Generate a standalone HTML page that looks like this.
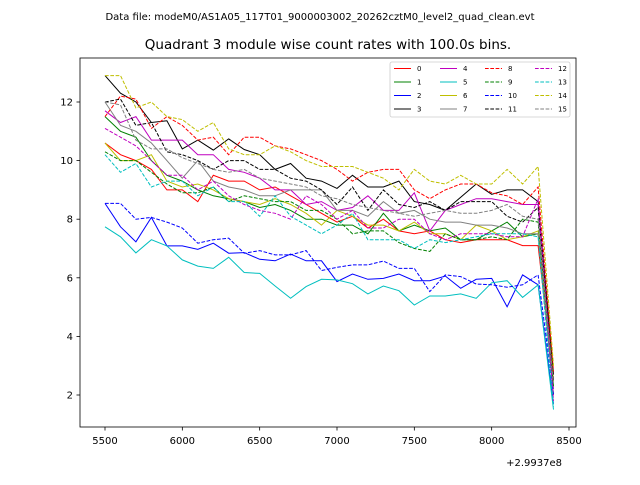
<!DOCTYPE html>
<html><head><meta charset="utf-8"><style>
body{margin:0;background:#fff;font-family:"Liberation Sans","DejaVu Sans",sans-serif}
svg text{font-family:"DejaVu Sans","Liberation Sans",sans-serif}
</style></head><body>
<svg id="chart" width="640" height="480" xmlns="http://www.w3.org/2000/svg">
<text x="320" y="20" font-size="10" text-anchor="middle">Data file: modeM0/AS1A05_117T01_9000003002_20262cztM0_level2_quad_clean.evt</text>
<text x="328" y="49" font-size="13.5" text-anchor="middle">Quadrant 3 module wise count rates with 100.0s bins.</text>
<g id="series"></g>
<rect x="80" y="58" width="496" height="369" fill="none" stroke="#000" stroke-width="0.8"/>
<g id="axes"></g>
<text x="562" y="466" font-size="10" text-anchor="end">+2.9937e8</text>
<g id="legend"></g>
</svg>
<script>
const times=[5500,5600,5700,5800,5900,6000,6100,6200,6300,6400,6500,6600,6700,6800,6900,7000,7100,7200,7300,7400,7500,7600,7700,7800,7900,8000,8100,8200,8300,8400];
const s0=[10.6,10.2,10.0,9.7,9.0,9.0,8.6,9.5,9.3,9.3,9.0,9.1,8.8,8.5,8.2,7.9,8.1,7.7,8.0,7.6,7.5,7.6,7.3,7.2,7.3,7.3,7.3,7.1,7.1,2.5];
const s1=[11.5,11.0,10.8,10.0,9.5,9.3,9.0,8.8,8.7,8.6,8.4,8.5,8.3,8.0,8.0,7.8,7.8,7.5,8.2,7.6,7.8,7.6,7.7,7.3,7.3,7.6,7.9,7.4,7.5,2.0];
const s2=[8.54,7.74,7.23,8.06,7.09,7.09,6.97,7.18,6.84,6.86,6.63,6.58,6.81,6.58,6.58,5.87,6.13,5.95,5.98,6.13,5.9,5.9,6.06,5.64,5.95,5.98,5.01,6.1,5.76,1.7];
const s3=[12.9,12.3,12.0,11.3,11.36,10.4,10.7,10.36,10.74,10.38,10.2,9.7,9.9,9.4,9.3,9.05,9.5,9.1,9.1,9.3,8.6,8.5,8.3,8.75,9.2,8.85,9.0,9.0,8.6,2.7];
const s4=[11.7,11.3,11.5,10.7,10.7,10.7,10.2,10.2,9.7,9.6,9.4,9.0,9.0,8.5,8.6,8.3,8.4,8.8,8.3,8.3,8.9,7.6,8.3,8.5,8.7,8.7,8.6,8.5,8.5,2.2];
const s5=[7.74,7.4,6.85,7.3,7.09,6.61,6.4,6.32,6.7,6.18,6.15,5.72,5.3,5.7,5.95,5.93,5.8,5.45,5.72,5.56,5.07,5.38,5.38,5.45,5.3,5.83,5.9,5.33,5.76,1.5];
const s6=[10.6,10.0,10.0,10.2,9.3,9.1,9.2,9.0,8.7,8.6,8.5,8.7,8.5,8.2,7.8,8.3,8.1,7.8,7.8,7.6,7.9,7.5,7.5,7.3,7.8,7.6,7.3,7.4,7.6,2.5];
const s7=[12.0,11.2,11.0,10.6,10.0,9.4,10.0,9.3,9.1,9.0,8.8,8.8,9.0,9.0,9.0,8.3,8.3,8.1,8.6,8.2,8.3,8.0,7.9,7.9,7.8,7.8,7.7,7.5,7.5,2.0];
const s8=[11.5,12.2,12.1,11.1,11.5,11.2,10.7,10.8,10.2,10.8,10.8,10.5,10.4,10.2,10.0,9.7,9.3,9.6,9.7,9.7,9.0,8.7,9.0,9.2,9.2,8.9,8.8,8.5,9.1,2.8];
const s9=[10.3,10.0,10.0,9.6,9.2,8.9,8.9,9.1,8.6,8.8,8.7,8.6,8.6,8.3,8.3,8.0,7.5,7.6,7.6,7.2,7.0,6.9,7.5,7.3,7.3,7.4,7.3,8.0,7.9,2.3];
const s10=[8.54,8.54,8.0,8.06,7.9,7.7,7.18,7.3,7.35,6.84,6.93,6.78,6.78,6.93,6.25,6.36,6.44,6.44,6.57,6.32,6.32,5.53,6.1,6.04,5.79,5.76,5.68,5.76,6.1,2.0];
const s11=[12.0,12.1,11.2,11.3,10.3,10.2,10.0,9.7,10.0,10.0,9.7,9.7,9.4,9.3,9.0,8.5,9.1,8.3,9.0,8.5,8.4,8.6,8.3,8.6,8.6,8.6,8.1,7.9,8.4,2.5];
const s12=[11.1,10.8,10.5,10.0,9.5,9.5,9.0,9.3,8.8,8.5,8.3,8.2,8.0,8.8,8.5,8.0,8.3,7.7,7.7,8.0,8.0,7.5,7.3,7.5,7.5,7.5,7.4,7.4,8.7,1.8];
const s13=[10.2,9.6,9.9,9.1,9.3,9.3,8.8,9.1,8.6,8.6,8.1,8.8,8.1,7.8,7.5,7.8,8.2,7.3,7.3,7.3,7.0,7.3,7.2,7.3,7.4,7.5,7.5,7.5,7.4,1.6];
const s14=[12.9,12.9,11.8,12.0,11.5,11.4,11.0,11.3,10.4,10.2,10.2,10.5,10.3,10.0,9.8,9.8,9.8,9.6,9.4,9.0,9.7,9.3,9.2,9.5,9.2,9.2,9.7,9.2,9.8,3.0];
const s15=[12.0,11.9,10.7,10.4,10.4,10.1,9.9,9.7,9.6,9.7,9.4,9.3,9.2,9.1,8.8,8.7,8.5,8.4,8.3,8.2,8.1,8.2,8.3,8.2,8.2,8.3,8.5,8.1,8.0,2.4];
const seriesVals=[s0,s1,s2,s3,s4,s5,s6,s7,s8,s9,s10,s11,s12,s13,s14,s15];
const labels=["0","1","2","3","4","5","6","7","8","9","10","11","12","13","14","15"];
const xTicks=[5500,6000,6500,7000,7500,8000,8500];
const yTicks=[2,4,6,8,10,12];
const colors=["#ff0000","#008000","#0000ff","#000000","#bf00bf","#00bfbf","#bfbf00","#808080"];
const NS="http://www.w3.org/2000/svg";
function X(t){return 105+(t-5500)*(464/3000);}
function Y(v){return 395-(v-2)*29.3;}
const sg=document.getElementById('series');
seriesVals.forEach((arr,i)=>{
  const p=document.createElementNS(NS,'polyline');
  p.setAttribute('points',arr.map((v,j)=>X(times[j]).toFixed(1)+','+Y(v).toFixed(1)).join(' '));
  p.setAttribute('fill','none');p.setAttribute('stroke',colors[i%8]);p.setAttribute('stroke-width','1');
  if(i>=8)p.setAttribute('stroke-dasharray','3.7,1.6');
  
  
  sg.appendChild(p);
});
const ag=document.getElementById('axes');
xTicks.forEach(t=>{
  const x=X(t);
  const l=document.createElementNS(NS,'line');l.setAttribute('x1',x);l.setAttribute('x2',x);l.setAttribute('y1',427);l.setAttribute('y2',430.5);l.setAttribute('stroke','#000');l.setAttribute('stroke-width','0.8');
  
  
  ag.appendChild(l);
  const tx=document.createElementNS(NS,'text');tx.setAttribute('x',x);tx.setAttribute('y',444);tx.setAttribute('font-size','10');tx.setAttribute('text-anchor','middle');tx.textContent=t;
  
  
  ag.appendChild(tx);
});
yTicks.forEach(v=>{
  const y=Y(v);
  const l=document.createElementNS(NS,'line');l.setAttribute('x1',76.5);l.setAttribute('x2',80);l.setAttribute('y1',y);l.setAttribute('y2',y);l.setAttribute('stroke','#000');l.setAttribute('stroke-width','0.8');
  
  
  ag.appendChild(l);
  const tx=document.createElementNS(NS,'text');tx.setAttribute('x',73);tx.setAttribute('y',y+3.5);tx.setAttribute('font-size','10');tx.setAttribute('text-anchor','end');tx.textContent=v;
  
  
  ag.appendChild(tx);
});
const lg=document.getElementById('legend');
const box=document.createElementNS(NS,'rect');
box.setAttribute('x',390);box.setAttribute('y',62);box.setAttribute('width',180);box.setAttribute('height',55);box.setAttribute('rx',2);box.setAttribute('fill','#fff');box.setAttribute('fill-opacity','0.8');box.setAttribute('stroke','#ccc');box.setAttribute('stroke-width','0.8');


lg.appendChild(box);
const colX=[394,440,485,535];
labels.forEach((lab,i)=>{
  const c=Math.floor(i/4),r=i%4;
  const x=colX[c],y=68.5+r*13.5;
  const g=document.createElementNS(NS,'g');
  
  
  const l=document.createElementNS(NS,'line');l.setAttribute('x1',x);l.setAttribute('x2',x+17);l.setAttribute('y1',y);l.setAttribute('y2',y);l.setAttribute('stroke',colors[i%8]);l.setAttribute('stroke-width','1');
  if(i>=8)l.setAttribute('stroke-dasharray','3.7,1.6');
  g.appendChild(l);
  const t=document.createElementNS(NS,'text');t.setAttribute('x',x+23);t.setAttribute('y',y+2.5);t.setAttribute('font-size','7');t.textContent=lab;
  g.appendChild(t);
  lg.appendChild(g);
});
</script>
</body></html>
